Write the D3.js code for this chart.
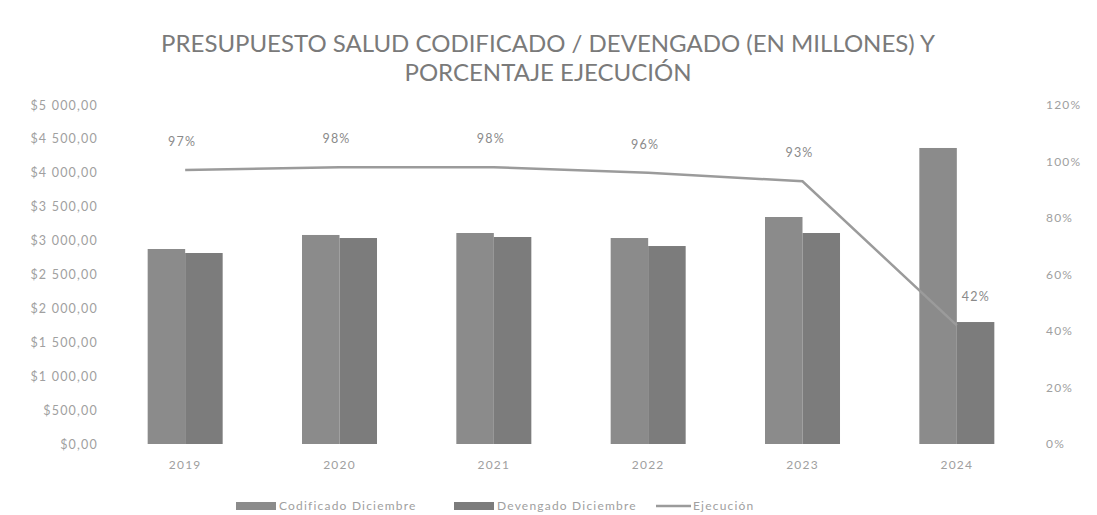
<!DOCTYPE html>
<html>
<head>
<meta charset="utf-8">
<script src="https://cdn.jsdelivr.net/npm/d3@7"></script>
<style>
  body { margin: 0; background: #fff; }
  text { font-family: Lato, "Open Sans", sans-serif; }
  .lbl { letter-spacing: 1.2px; }
</style>
</head>
<body>
<div id="chart"></div>
<script>
// Presupuesto salud: codificado / devengado (millones) + porcentaje de ejecucion
var years = ["2019", "2020", "2021", "2022", "2023", "2024"]
var codificado = [2876, 3083, 3112, 3038, 3348, 4366]
var devengado = [2817, 3038, 3053, 2920, 3112, 1799]
var ejecucion = [0.97, 0.98, 0.98, 0.96, 0.93, 0.42]
var leftTicks = [0, 500, 1000, 1500, 2000, 2500, 3000, 3500, 4000, 4500, 5000]
var rightTicks = [0, 0.2, 0.4, 0.6, 0.8, 1.0, 1.2]
var seriesNames = ["Codificado Diciembre", "Devengado Diciembre", "Ejecución"]

var W = 1097, H = 515
var margin = { top: 105, left: 108, right: 63, bottom: 71 }
var width = W - margin.left - margin.right,
  height = H - margin.top - margin.bottom

var colCod = "#8b8b8b", colDev = "#7c7c7c", colLine = "#9b9b9b", colText = "#a0a0a0"

var svg = d3.select("#chart").append("svg")
  .attr("width", W)
  .attr("height", H)

var g = svg.append("g")
  .attr("transform", "translate(" + margin.left + "," + margin.top + ")")

// scales
var xBand = d3.scaleBand().domain(years).range([0, width]).paddingInner(0).paddingOuter(0)
var xInner = d3.scaleBand().domain([0, 1])
  .range([xBand.bandwidth() * 0.257, xBand.bandwidth() * 0.743])
var yLeft = d3.scaleLinear().domain([0, 5000]).range([height, 0])
var yRight = d3.scaleLinear().domain([0, 1.2]).range([height, 0])

// title
svg.append("text")
  .attr("x", 548).attr("y", 52)
  .attr("text-anchor", "middle")
  .attr("font-size", 24)
  .attr("fill", "#7a7a7a")
  .text("PRESUPUESTO SALUD CODIFICADO / DEVENGADO (EN MILLONES) Y")
svg.append("text")
  .attr("x", 548).attr("y", 81)
  .attr("text-anchor", "middle")
  .attr("font-size", 24)
  .attr("fill", "#7a7a7a")
  .text("PORCENTAJE EJECUCIÓN")

// left axis
var fmtMoney = function(v) {
  var s = d3.format(",.2f")(v)
  return "$" + s.replace(/,/g, " ").replace(".", ",")
}
var leftAxis = g.append("g")
  .call(d3.axisLeft(yLeft).tickValues(leftTicks).tickFormat(fmtMoney).tickSize(0).tickPadding(10))
leftAxis.select(".domain").remove()
leftAxis.selectAll("text").attr("class", "lbl").attr("fill", colText).attr("font-size", 12.5)

// right axis
var rightAxis = g.append("g")
  .attr("transform", "translate(" + width + ",0)")
  .call(d3.axisRight(yRight).tickValues(rightTicks).tickFormat(d3.format(".0%")).tickSize(0).tickPadding(12))
rightAxis.select(".domain").remove()
rightAxis.selectAll("text").attr("class", "lbl").attr("fill", colText).attr("font-size", 12)

// bottom axis
var bottomAxis = g.append("g")
  .attr("transform", "translate(0," + height + ")")
  .call(d3.axisBottom(xBand).tickSize(0).tickPadding(16))
bottomAxis.select(".domain").remove()
bottomAxis.selectAll("text").attr("class", "lbl").attr("fill", colText).attr("font-size", 12)

// bars
var groups = g.selectAll(".year")
  .data(years)
  .enter().append("g")
  .attr("class", "year")
  .attr("transform", function(d) { return "translate(" + xBand(d) + ",0)" })

groups.append("rect")
  .attr("x", xInner(0))
  .attr("width", xInner.bandwidth())
  .attr("y", function(d, i) { return yLeft(codificado[i]) })
  .attr("height", function(d, i) { return height - yLeft(codificado[i]) })
  .attr("fill", colCod)

groups.append("rect")
  .attr("x", xInner(1))
  .attr("width", xInner.bandwidth())
  .attr("y", function(d, i) { return yLeft(devengado[i]) })
  .attr("height", function(d, i) { return height - yLeft(devengado[i]) })
  .attr("fill", colDev)

// execution line
var line = d3.line()
  .x(function(d, i) { return xBand(years[i]) + xBand.bandwidth() / 2 })
  .y(function(d) { return yRight(d) })

g.append("path")
  .datum(ejecucion)
  .attr("d", line)
  .attr("fill", "none")
  .attr("stroke", colLine)
  .attr("stroke-width", 2.5)

g.selectAll(".pct")
  .data(ejecucion)
  .enter().append("text")
  .attr("class", "pct lbl")
  .attr("x", function(d, i) { return xBand(years[i]) + xBand.bandwidth() / 2 })
  .attr("y", function(d) { return yRight(d) })
  .attr("dx", function(d, i) { return i === ejecucion.length - 1 ? 19 : -3 })
  .attr("dy", -24)
  .attr("text-anchor", "middle")
  .attr("font-size", 12.5)
  .attr("fill", "#8a8a8a")
  .text(function(d) { return Math.round(d * 100) + "%" })

// legend
var legend = svg.append("g").attr("transform", "translate(0,506)")
var items = [
  { x: 236, type: "rect", color: colCod, name: seriesNames[0] },
  { x: 454, type: "rect", color: colDev, name: seriesNames[1] },
  { x: 656, type: "line", color: colLine, name: seriesNames[2] }
]
items.forEach(function(it) {
  if (it.type === "rect") {
    legend.append("rect").attr("x", it.x).attr("y", -4).attr("width", 40).attr("height", 8).attr("fill", it.color)
  } else {
    legend.append("line").attr("x1", it.x).attr("x2", it.x + 35).attr("y1", 0).attr("y2", 0)
      .attr("stroke", it.color).attr("stroke-width", 2.5)
  }
  legend.append("text")
    .attr("class", "lbl")
    .attr("x", it.x + (it.type === "rect" ? 43 : 37))
    .attr("y", 0)
    .attr("dy", "0.35em")
    .attr("font-size", 12)
    .attr("fill", colText)
    .text(it.name)
})
</script>
</body>
</html>
